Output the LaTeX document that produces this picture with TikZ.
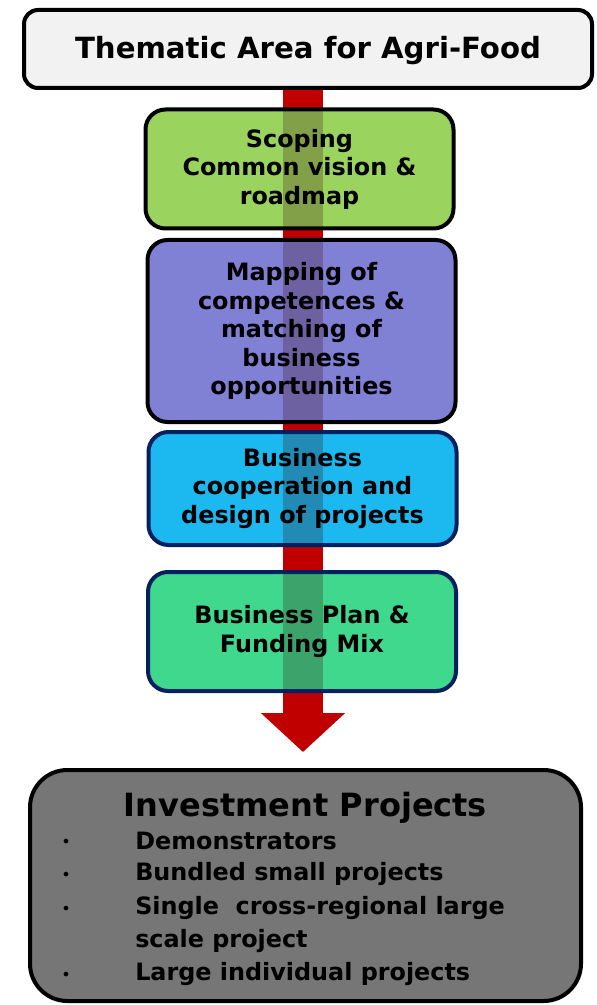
\documentclass[tikz,border=0pt]{standalone}
\usepackage{fontspec}
\setmainfont{DejaVu Sans}
\usetikzlibrary{positioning, arrows.meta, backgrounds}
\definecolor{arrowred}{HTML}{C00000}
\definecolor{headgray}{HTML}{F2F2F2}
\definecolor{scopegreen}{HTML}{9BD35F}
\definecolor{mappurple}{HTML}{8080D5}
\definecolor{coopblue}{HTML}{1CB8F0}
\definecolor{planteal}{HTML}{40D88C}
\definecolor{navyline}{HTML}{002060}
\definecolor{investgray}{HTML}{767676}

\begin{document}
\begin{tikzpicture}[x=0.75pt, y=-0.75pt,
  shaftshade/.style={fill=black!80!red, fill opacity=0.24, sharp corners},
  stage/.style={draw=black, line width=3pt, rounded corners=15pt, align=center,
    inner sep=0pt, minimum width=231pt, font=\fontsize{17.9}{21.4}\selectfont\bfseries,
    execute at begin node={\rule{0pt}{18pt}},
    path picture={\fill[shaftshade] (path picture bounding box.north -| shaftL)
      rectangle (path picture bounding box.south -| shaftR);}},
  bigarrow/.style={draw=arrowred, line width=30pt,
    -{Triangle[width=61.5pt, length=29.25pt, fill=arrowred]}},
  item/.style={anchor=west, inner sep=0pt, font=\fontsize{17.9}{21}\selectfont\bfseries},
]
\useasboundingbox (0,0) rectangle (596,1005);
\coordinate (shaftL) at (283,0);
\coordinate (shaftR) at (323,0);
\coordinate (tip) at (303,752);

% header
\node[draw=black, fill=headgray, line width=3pt, rounded corners=10.5pt, inner sep=0pt,
  minimum width=426pt, minimum height=58.5pt, text height=20pt, text depth=5pt,
  font=\fontsize{21.9}{26}\selectfont\bfseries]
  (area) at (308,49) {Thematic Area for Agri-Food};

% stages
\node[stage, fill=scopegreen, minimum height=89.25pt] (scoping) at (299.5,169)
  {Scoping\\Common vision \&\\roadmap};
\node[stage, fill=mappurple, minimum height=136.5pt] (mapping) at (301.5,331)
  {Mapping of\\competences \&\\matching of\\business\\opportunities};
\node[stage, draw=navyline, fill=coopblue, minimum height=84.75pt] (coop) at (302.5,488.5)
  {Business\\cooperation and\\design of projects};
\node[stage, draw=navyline, fill=planteal, minimum height=89.25pt] (plan) at (302,631.5)
  {Business Plan \&\\Funding Mix};

% flow arrow
\begin{pgfonlayer}{background}
\draw[bigarrow] (area.south -| tip) -- (tip);
\end{pgfonlayer}

% result
\node[draw=black, fill=investgray, line width=3pt, rounded corners=28pt, inner sep=0pt,
  minimum width=413.25pt, minimum height=173.25pt] (invest) at (305.5,885.5) {};
\node[font=\fontsize{24}{28}\selectfont\bfseries, inner sep=0pt] (projects) at (305.5,808)
  {Investment Projects};
\foreach \txt/\yy/\bul in {Demonstrators/841/1, Bundled small projects/874/1,
    Single\ \ cross-regional large/908/1, scale project/941/0,
    Large individual projects/974/1} {
  \node[item] (item-\yy) at (135,\yy) {\txt};
  \ifnum\bul=1
    \node[inner sep=0pt, font=\fontsize{12}{14}\selectfont] (bullet-\yy) at (66,\yy+2) {•};
  \fi
}
\end{tikzpicture}
\end{document}
